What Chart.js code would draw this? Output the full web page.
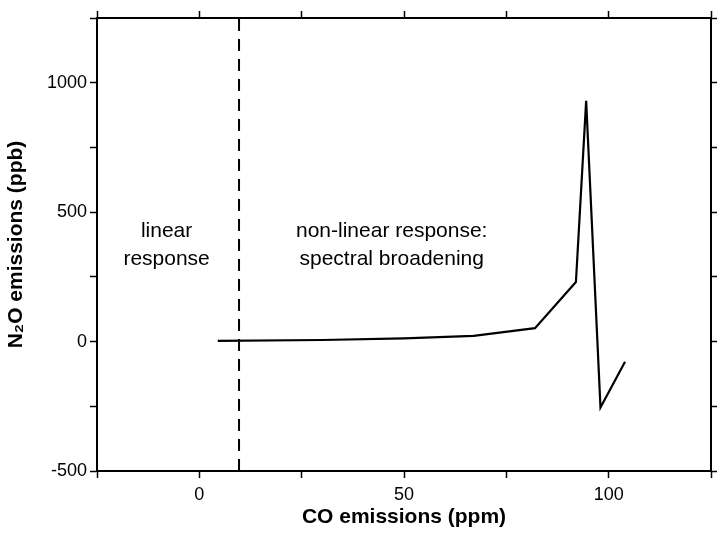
<!DOCTYPE html><html><head><script src="https://cdn.jsdelivr.net/npm/chart.js@4"></script>
<style>body{margin:0;background:#fff}#w{width:717px;height:540px}</style></head><body><div id="w"><canvas id="c"></canvas></div>
<script>
const coPpm=[4.5,30,50,67,82,92,94.5,98,104];
const n2oPpb=[3,6,12,22,52,230,930,-255,-78];
const limitX=9.7;
const xRange=[-25,125], yRange=[-500,1250];
const labels=[{t:["linear","response"],x:-8,y:405},{t:["non-linear response:","spectral broadening"],x:47,y:405}];
const grid={drawOnChartArea:false,color:'#000',tickLength:7,tickWidth:1.5};
const labelPlugin={id:'lbl',afterDatasetsDraw(ch){const c=ch.ctx,xs=ch.scales.x,ys=ch.scales.y;c.save();c.fillStyle='#000';c.font='21px Arial, "Liberation Sans"';c.textAlign='center';
labels.forEach(l=>{l.t.forEach((s,i)=>c.fillText(s,xs.getPixelForValue(l.x),ys.getPixelForValue(l.y)+i*28));});c.restore();}};
new Chart(document.getElementById('c'),{type:'scatter',data:{datasets:[
{data:coPpm.map((x,i)=>({x,y:n2oPpb[i]})),showLine:true,borderColor:'#000',borderWidth:2.2,pointRadius:0,tension:0},
{data:[{x:limitX,y:yRange[0]},{x:limitX,y:yRange[1]}],showLine:true,borderColor:'#000',borderWidth:2,borderDash:[12,8],pointRadius:0}]},
options:{responsive:true,maintainAspectRatio:false,animation:false,layout:{padding:{left:0,right:0,top:0,bottom:6}},
plugins:{legend:{display:false},tooltip:{enabled:false}},
scales:{
x:{type:'linear',min:xRange[0],max:xRange[1],border:{color:'#000',width:2},grid,ticks:{stepSize:25,color:'#000',padding:6,font:{size:18,family:'Arial, "Liberation Sans"'},maxRotation:0,callback:v=>v%50===0?v:''},
 afterFit(s){s.height=63},
 title:{display:true,text:'CO emissions (ppm)',color:'#000',font:{size:21,weight:'bold',family:'Arial, "Liberation Sans"'},padding:{top:0}}},
x2:{type:'linear',position:'top',min:xRange[0],max:xRange[1],border:{color:'#000',width:2},grid,afterFit(s){s.height=18},ticks:{stepSize:25,display:true,callback:()=>''}},
y:{type:'linear',min:yRange[0],max:yRange[1],border:{color:'#000',width:2},grid,afterFit(s){s.width=97},ticks:{stepSize:250,color:'#000',font:{size:18,family:'Arial, "Liberation Sans"'},callback:v=>v%500===0?v:''},
 title:{display:true,text:'N₂O emissions (ppb)',color:'#000',font:{size:21,weight:'bold',family:'Arial, "Liberation Sans"'},padding:{bottom:4}}},
y2:{type:'linear',position:'right',min:yRange[0],max:yRange[1],border:{color:'#000',width:2},grid,afterFit(s){s.width=4},ticks:{stepSize:250,display:true,callback:()=>''}}
}},plugins:[labelPlugin]});
</script></body></html>
